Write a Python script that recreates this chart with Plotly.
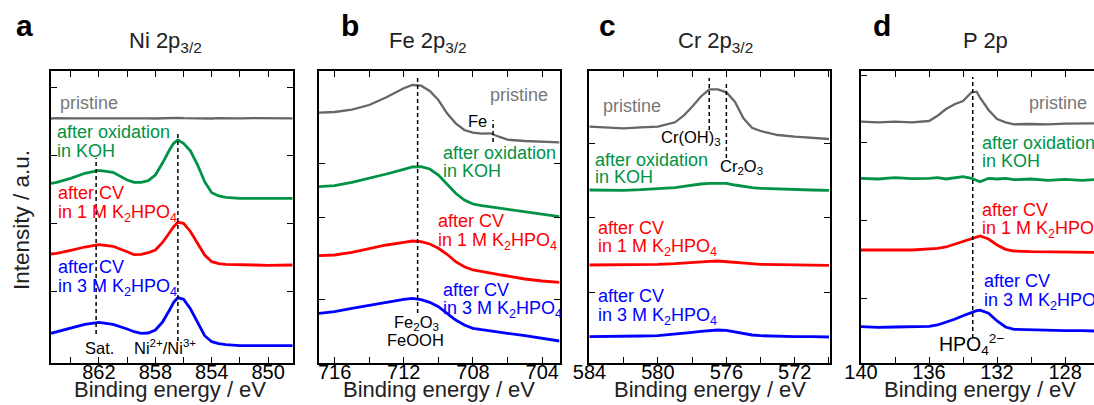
import plotly.graph_objects as go

W, H = 1094, 405
FONT = "Liberation Sans, Arial, Helvetica, sans-serif"
GRAY, GREEN, RED, BLUE = "#666666", "#009245", "#ff0000", "#0000ff"
GRAY_TXT = "#777777"

# ---------------- data (binding energy / eV, intensity / a.u.) ----------------
ni_be = [865.4, 865, 864, 863, 862, 861, 860, 859.5, 859, 858.5, 858, 857.5, 857, 856.7,
         856.4, 856, 855.5, 855, 854.5, 854, 853.5, 853, 852, 851, 850, 849, 848.2]
ni_pristine = [244.5, 244.9, 244.6, 244.8, 244.4, 244.9, 244.7, 244.6, 245.0, 244.7, 244.5, 244.8,
               244.6, 244.9, 245.1, 244.8, 244.6, 244.9, 244.7, 244.5, 244.8, 244.6, 244.7, 244.9,
               244.6, 244.8, 244.7]
ni_koh = [179.7, 180.7, 184.7, 189.7, 192.7, 190.7, 183.0, 180.7, 180.7, 182.3, 188.0, 199.7, 213.0,
          219.7, 223.0, 219.7, 212.0, 198.0, 181.3, 170.3, 167.0, 165.7, 164.7, 164.7, 164.5, 164.7, 164.7]
ni_cv1 = [109.0, 109.7, 112.7, 116.0, 118.3, 116.7, 111.3, 108.3, 108.7, 110.3, 113.0, 120.3, 130.3,
          136.3, 140.7, 139.7, 131.3, 119.7, 108.0, 101.3, 99.3, 98.7, 98.0, 98.0, 97.7, 98.0, 98.0]
ni_cv3 = [29.7, 31.3, 34.7, 38.7, 40.7, 38.7, 34.0, 31.3, 29.7, 30.0, 33.0, 40.7, 52.7,
          60.7, 65.3, 63.7, 54.0, 40.7, 27.3, 21.3, 19.3, 18.3, 17.3, 17.3, 17.3, 17.0, 17.3]
ni_refs = [862.2, 856.4]

fe_be = [716.9, 716, 715, 714, 713, 712, 711.5, 711, 710.5, 710, 709.5, 709, 708.5, 708,
         707.5, 707, 706.5, 706, 705, 704, 703.0]
fe_pristine = [250.3, 251.0, 253.3, 258.0, 265.7, 274.7, 278.0, 277.3, 272.0, 263.0, 249.7, 239.7,
               233.0, 230.3, 229.3, 229.7, 226.3, 223.3, 222.0, 221.3, 220.7]
fe_koh = [176.3, 177.3, 180.7, 184.7, 189.0, 193.7, 196.0, 196.3, 194.0, 188.0, 178.7, 169.7,
          163.0, 159.0, 157.3, 156.0, 155.0, 154.0, 151.3, 148.7, 146.3]
fe_cv1 = [107.3, 108.0, 110.7, 114.7, 118.0, 120.7, 122.0, 121.3, 119.0, 114.7, 108.7, 101.3,
          96.3, 93.0, 91.3, 89.7, 88.3, 87.0, 84.0, 82.0, 80.7]
fe_cv3 = [49.7, 51.3, 54.7, 58.0, 60.7, 63.7, 64.7, 63.3, 60.7, 56.3, 49.7, 43.0,
          38.0, 34.7, 33.3, 32.3, 31.0, 29.7, 27.3, 24.7, 22.0]
fe_refs = [711.2, 706.84]

cr_be = [584, 583, 582, 581, 580, 579, 578.5, 578, 577.5, 577, 576.5, 576, 575.5, 575,
         574.5, 574, 573, 572, 571, 570]
cr_pristine = [236.3, 235.3, 234.7, 235.7, 236.3, 240.7, 247.3, 256.3, 266.3, 273.7, 273.7, 270.7,
               261.3, 244.7, 235.3, 232.0, 228.0, 226.3, 225.3, 224.0]
cr_koh = [173.0, 172.7, 172.7, 173.3, 174.0, 175.3, 176.7, 178.0, 179.0, 179.7, 180.0, 179.7,
          178.0, 176.3, 175.3, 174.7, 174.0, 173.3, 173.0, 172.7]
cr_cv1 = [98.0, 98.0, 98.3, 98.3, 98.7, 99.3, 100.0, 100.7, 101.3, 101.7, 102.0, 101.3,
          100.3, 99.7, 99.0, 98.7, 98.3, 98.0, 98.0, 97.7]
cr_cv3 = [26.3, 26.3, 26.7, 27.0, 27.3, 28.7, 29.7, 30.7, 31.7, 32.3, 33.0, 32.7,
          31.3, 29.3, 28.0, 27.3, 26.7, 26.3, 26.3, 26.0]
cr_refs = [577.0, 576.0]

p_be = [140, 139, 138, 137, 136, 135.5, 135, 134.5, 134, 133.5, 133.2, 133, 132.5, 132,
        131.5, 131, 130, 129, 128, 127, 126.3]
p_pristine = [241.3, 240.7, 241.3, 240.7, 242.0, 247.3, 254.0, 258.7, 262.0, 270.7, 271.3, 265.3,
              253.0, 244.0, 240.7, 238.7, 239.0, 238.7, 239.3, 239.7, 239.7]
p_koh = [184.7, 184.0, 185.3, 184.3, 184.7, 185.3, 184.0, 185.0, 186.3, 184.7, 183.0, 181.3,
         184.7, 184.0, 184.7, 183.3, 184.0, 182.7, 183.7, 182.7, 183.3]
p_cv1 = [113.0, 112.7, 113.0, 113.0, 113.7, 114.7, 116.0, 118.7, 121.3, 124.0, 126.0, 127.0,
         124.0, 118.0, 113.7, 112.0, 111.3, 111.0, 110.7, 110.7, 110.7]
p_cv3 = [36.3, 35.7, 36.0, 36.0, 36.7, 38.0, 40.7, 43.7, 47.3, 50.7, 52.3, 52.7,
         49.7, 42.0, 36.0, 33.7, 33.0, 32.7, 32.3, 32.3, 32.0]
p_refs = [133.43]

# ---------------- layout helpers ----------------
def fx(px):
    return px / W

def fy(py):
    return 1 - py / H

PLOT_TOP, PLOT_BOT = 71, 362.7
panels = [
    dict(x=(51, 292.5), rng=[865.4, 848.27], tick0=850, be=ni_be,
         ys=[ni_pristine, ni_koh, ni_cv1, ni_cv3], yt=[72, 140, 208, 276], mirror_y=True,
         refs=ni_refs, refspan=[(158, 334), (132, 341)]),
    dict(x=(319, 559.5), rng=[716.9, 703.0], tick0=704, be=fe_be,
         ys=[fe_pristine, fe_koh, fe_cv1, fe_cv3], yt=[64, 146, 200], mirror_y=True,
         refs=fe_refs, refspan=[(75, 313), (120, 142)]),
    dict(x=(589, 830), rng=[584.03, 569.94], tick0=572, be=cr_be,
         ys=[cr_pristine, cr_koh, cr_cv1, cr_cv3], yt=[71, 146, 220], mirror_y=True,
         refs=cr_refs, refspan=[(78, 130), (83, 158)]),
    dict(x=(861, 1094), rng=[140.0, 126.3], tick0=128, be=p_be,
         ys=[p_pristine, p_koh, p_cv1, p_cv3], yt=[65, 143, 221, 288], mirror_y=False,
         refs=p_refs, refspan=[(77, 338)]),
]
colors = [GRAY, GREEN, RED, BLUE]
widths = [2.3, 2.8, 2.8, 2.8]

fig = go.Figure()
layout = dict(width=W, height=H, margin=dict(l=0, r=0, t=0, b=0, pad=0, autoexpand=False),
              paper_bgcolor="white", plot_bgcolor="white", showlegend=False,
              font=dict(family=FONT, color="black"))
shapes = []
for i, p in enumerate(panels):
    k = "" if i == 0 else str(i + 1)
    for y, c, w in zip(p["ys"], colors, widths):
        fig.add_trace(go.Scatter(x=p["be"], y=y, mode="lines", line=dict(color=c, width=w),
                                 xaxis="x" + k, yaxis="y" + k, hoverinfo="skip"))
    layout["xaxis" + k] = dict(
        domain=[fx(p["x"][0]), fx(p["x"][1])], range=p["rng"], anchor="y" + k,
        tick0=p["tick0"], dtick=4, ticks="inside", ticklen=6, tickwidth=1.3, tickcolor="black",
        showline=True, linecolor="black", linewidth=1.5, mirror="allticks",
        showgrid=False, zeroline=False, automargin=False, ticklabelstandoff=-9,
        tickfont=dict(size=20, color="black", family=FONT),
        minor=dict(dtick=2, tick0=p["tick0"], ticks="inside", ticklen=6, tickwidth=1.3,
                   tickcolor="black", showgrid=False))
    layout["yaxis" + k] = dict(
        domain=[fy(PLOT_BOT), fy(PLOT_TOP)], range=[0.3, 292], anchor="x" + k,
        tickvals=p["yt"], showticklabels=False, ticks="inside", ticklen=6, tickwidth=1.3,
        tickcolor="black", showline=True, linecolor="black", linewidth=1.5, automargin=False,
        mirror="allticks" if p["mirror_y"] else False, showgrid=False, zeroline=False)
    for e, (t0, t1) in zip(p["refs"], p["refspan"]):
        shapes.append(dict(type="line", xref="x" + k, yref="paper", x0=e, x1=e,
                           y0=fy(t1), y1=fy(t0),
                           line=dict(color="black", width=1.5, dash="4px,3px")))
layout["shapes"] = shapes

ann = []

def label(text, x, base, color="black", size=18, xanchor="left", bold=False, extra_top=0.0):
    top = base - 0.905 * size - 1 - extra_top
    t = "<b>" + text + "</b>" if bold else text
    ann.append(dict(text=t, x=fx(x), y=fy(top), xref="paper", yref="paper",
                    xanchor=xanchor, yanchor="top", showarrow=False,
                    font=dict(size=size, color=color, family=FONT)))

K2 = "K<sub>2</sub>HPO<sub>4</sub>"
# panel a
label("pristine", 58, 108, GRAY_TXT)
label("after oxidation", 55, 137, GREEN)
label("in KOH", 55, 156, GREEN)
label("after CV", 56, 198, RED)
label("in 1 M " + K2, 56, 217.5, RED)
label("after CV", 56, 272, BLUE)
label("in 3 M " + K2, 56, 291, BLUE)
label("Sat.", 83, 353, size=16.5)
label("Ni<sup>2+</sup>/Ni<sup>3+</sup>", 132, 353, size=16.5, extra_top=2.4)
# panel b
label("pristine", 550, 100, GRAY_TXT, xanchor="right")
label("Fe", 466, 125.7, size=16.5)
label("after oxidation", 441, 158.3, GREEN)
label("in KOH", 441, 176.7, GREEN)
label("after CV", 436, 226.7, RED)
label("in 1 M " + K2, 436, 245, RED)
label("after CV", 441, 295, BLUE)
label("in 3 M " + K2, 441, 313.3, BLUE)
label("Fe<sub>2</sub>O<sub>3</sub>", 416, 326.7, size=16.5, xanchor="center")
label("FeOOH", 415, 345, size=16.5, xanchor="center")
# panel c
label("pristine", 601, 111.7, GRAY_TXT)
label("Cr(OH)<sub>3</sub>", 659, 142.3, size=16.5)
label("Cr<sub>2</sub>O<sub>3</sub>", 718, 171, size=16.5)
label("after oxidation", 593, 165, GREEN)
label("in KOH", 593, 182.3, GREEN)
label("after CV", 596, 233, RED)
label("in 1 M " + K2, 596, 251.7, RED)
label("after CV", 596, 301.7, BLUE)
label("in 3 M " + K2, 596, 320, BLUE)
# panel d
label("pristine", 1027, 108.3, GRAY_TXT)
label("after oxidation", 980, 148.3, GREEN)
label("in KOH", 980, 166.7, GREEN)
label("after CV", 980, 215, RED)
label("in 1 M " + K2, 980, 233.3, RED)
label("after CV", 982, 286.7, BLUE)
label("in 3 M " + K2, 982, 305, BLUE)
label("HPO<sub>4</sub><sup>2\u2212</sup>", 937, 350, size=19.5, extra_top=2.8)

# titles and panel letters
label("Ni 2p<sub>3/2</sub>", 127, 47, "#222222", size=22)
label("Fe 2p<sub>3/2</sub>", 387, 47, "#222222", size=22)
label("Cr 2p<sub>3/2</sub>", 676, 47, "#222222", size=22)
label("P 2p", 961, 47, "#222222", size=22)
label("a", 14, 35, size=30, bold=True)
label("b", 339, 35, size=30, bold=True)
label("c", 597, 35, size=30, bold=True)
label("d", 871, 35, size=30, bold=True)

# axis titles
for cx in [169.5, 438.7, 710, 980]:
    label("Binding energy / eV", cx, 396, "#222222", size=22, xanchor="center")
ann.append(dict(text="Intensity / a.u.", x=fx(21), y=fy(220), xref="paper", yref="paper",
                xanchor="center", yanchor="middle", textangle=-90, showarrow=False,
                font=dict(size=22.5, color="#222222", family=FONT)))
layout["annotations"] = ann

fig.update_layout(**layout)
fig.write_html("out.html")
